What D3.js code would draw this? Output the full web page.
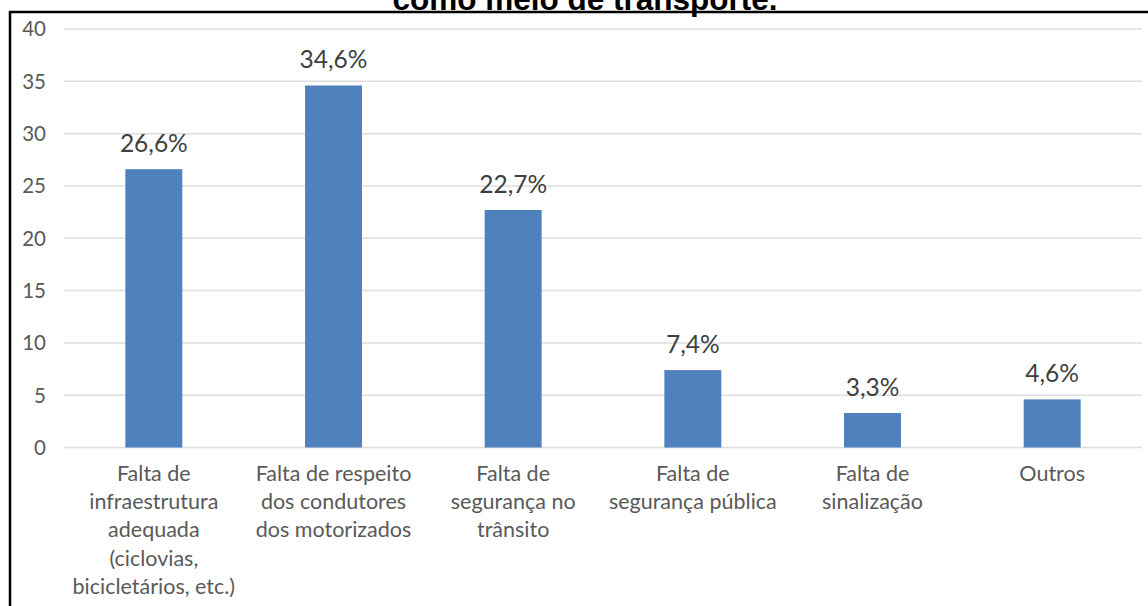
<!DOCTYPE html>
<html>
<head>
<meta charset="utf-8">
<script src="https://cdn.jsdelivr.net/npm/d3@7"></script>
<style>
  html, body { margin: 0; padding: 0; background: #fff; }
  svg { display: block; }
</style>
</head>
<body>
<svg id="chart" width="1148" height="606"></svg>
<script>
const titleText = "como meio de transporte.";
const categories = [
  "Falta de\ninfraestrutura\nadequada\n(ciclovias,\nbicicletários, etc.)",
  "Falta de respeito\ndos condutores\ndos motorizados",
  "Falta de\nsegurança no\ntrânsito",
  "Falta de\nsegurança pública",
  "Falta de\nsinalização",
  "Outros"
];
const values = [26.6, 34.6, 22.7, 7.4, 3.3, 4.6];
const valueLabels = ["26,6%", "34,6%", "22,7%", "7,4%", "3,3%", "4,6%"];
const yTicks = [0, 5, 10, 15, 20, 25, 30, 35, 40];

const W = 1148, H = 606;
const plot = { left: 64, right: 1142, top: 29, bottom: 447.5 };
const svg = d3.select("#chart");
const uiFont = "Lato, 'Open Sans', sans-serif";

const x = d3.scaleBand()
  .domain(categories)
  .range([plot.left, plot.right])
  .paddingInner(0.683)
  .paddingOuter(0.3415);

const y = d3.scaleLinear().domain([0, 40]).range([plot.bottom, plot.top]);

// gridlines
svg.append("g").selectAll("line").data(yTicks).join("line")
  .attr("x1", plot.left).attr("x2", plot.right)
  .attr("y1", d => y(d)).attr("y2", d => y(d))
  .attr("stroke", "#dedede").attr("stroke-width", 1.5);

// y-axis tick labels
svg.append("g").selectAll("text").data(yTicks).join("text")
  .attr("x", 46).attr("y", d => y(d))
  .attr("dy", "0.36em")
  .attr("text-anchor", "end")
  .attr("font-family", uiFont).attr("font-size", 20.5)
  .attr("fill", "#595959")
  .text(d => d);

// bars
svg.append("g").selectAll("rect").data(values).join("rect")
  .attr("x", (d, i) => x(categories[i]))
  .attr("width", x.bandwidth())
  .attr("y", d => y(d))
  .attr("height", d => y(0) - y(d))
  .attr("fill", "#4f81bd");

// value labels
svg.append("g").selectAll("text").data(values).join("text")
  .attr("x", (d, i) => x(categories[i]) + x.bandwidth() / 2)
  .attr("y", d => y(d) - 17)
  .attr("text-anchor", "middle")
  .attr("font-family", uiFont).attr("font-size", 24.5)
  .attr("fill", "#404040")
  .text((d, i) => valueLabels[i]);

// category labels
const cat = svg.append("g").selectAll("text").data(categories).join("text")
  .attr("text-anchor", "middle")
  .attr("font-family", uiFont).attr("font-size", 21.5)
  .attr("fill", "#595959")
  .attr("transform", d => `translate(${x(d) + x.bandwidth() / 2},0)`);
cat.each(function(d) {
  const lines = d.split("\n");
  d3.select(this).selectAll("tspan").data(lines).join("tspan")
    .attr("x", 0)
    .attr("y", (l, j) => 473 + j * 28.3)
    .attr("dy", "0.36em")
    .text(l => l);
});

// title (cut off at top)
svg.append("text")
  .attr("x", 585).attr("y", 9.5)
  .attr("text-anchor", "middle")
  .attr("font-family", "'Liberation Sans', Arial, sans-serif")
  .attr("font-weight", "bold").attr("font-size", 31.5)
  .attr("fill", "#000")
  .text(titleText);

// border frame
svg.append("path")
  .attr("d", `M10,${H} L10,12 L${W},12`)
  .attr("fill", "none").attr("stroke", "#000").attr("stroke-width", 2.5);
</script>
</body>
</html>
